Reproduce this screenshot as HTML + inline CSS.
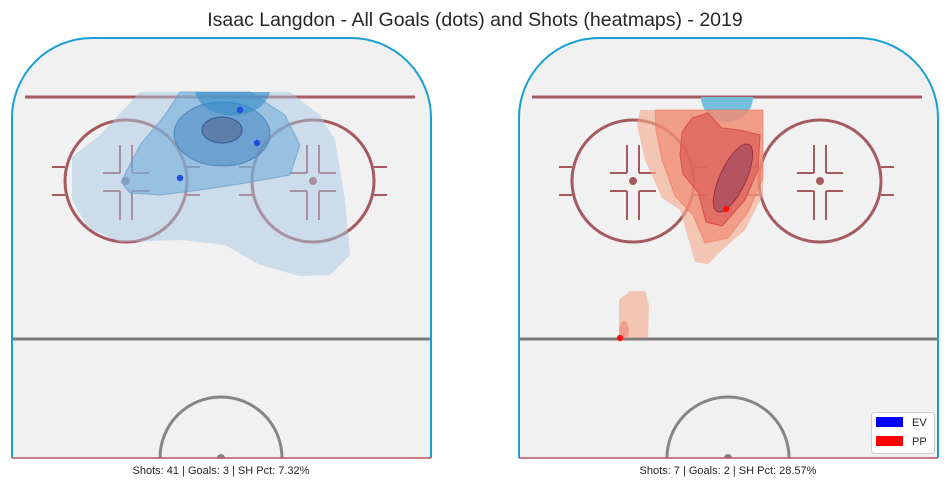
<!DOCTYPE html>
<html><head><meta charset="utf-8"><style>
html,body{margin:0;padding:0;width:950px;height:489px;overflow:hidden;background:#fff;font-family:"Liberation Sans",sans-serif}
svg{display:block}
</style></head><body>
<svg id="c" width="950" height="489" viewBox="0 0 950 489">
<text x="475" y="26" text-anchor="middle" font-size="19.5" fill="#262626">Isaac Langdon - All Goals (dots) and Shots (heatmaps) - 2019</text>
<g id="left"></g>
<g id="right"></g>
<text x="221" y="474" text-anchor="middle" font-size="11" fill="#262626">Shots: 41 | Goals: 3 | SH Pct: 7.32%</text>
<text x="728" y="474" text-anchor="middle" font-size="11" fill="#262626">Shots: 7 | Goals: 2 | SH Pct: 28.57%</text>
<g>
<rect x="871.5" y="412.5" width="63" height="41" rx="3" fill="#fff" stroke="#ccc"/>
<rect x="876" y="417" width="27" height="10" fill="#0000ff"/>
<text x="912" y="426" font-size="11" fill="#262626">EV</text>
<rect x="876" y="436" width="27" height="10" fill="#ff0000"/>
<text x="912" y="445" font-size="11" fill="#262626">PP</text>
</g>
</svg>
<script>
const leftGoalsX=[240,257,180];
const leftGoalsY=[110,143,178];
const rightGoalsX=[726,620];
const rightGoalsY=[209,338];
const NS='http://www.w3.org/2000/svg';
function mk(t,a,p){const e=document.createElementNS(NS,t);for(const k in a)e.setAttribute(k,a[k]);p.appendChild(e);return e;}
function rink(g,ox,id){
  const L=ox+12,R=ox+431,T=38,B=458,r=80;
  mk('clipPath',{id:'clip'+id},g);
  const cp=g.lastChild;
  mk('path',{d:`M${L},${B}V${T+r}A${r},${r} 0 0 1 ${L+r},${T}H${R-r}A${r},${r} 0 0 1 ${R},${T+r}V${B}Z`},cp);
  const bg=mk('path',{d:`M${L},${B}V${T+r}A${r},${r} 0 0 1 ${L+r},${T}H${R-r}A${r},${r} 0 0 1 ${R},${T+r}V${B}Z`,fill:'#f1f1f1'},g);
  
  
  const m=mk('g',{'clip-path':`url(#clip${id})`},g);
  mk('line',{x1:ox+25,x2:ox+415,y1:97,y2:97,stroke:'#a55a5f','stroke-width':3},m);
  mk('line',{x1:L,x2:R,y1:339,y2:339,stroke:'#7b7b7b','stroke-width':3},m);
  const cc=ox+221;
  mk('path',{d:`M${cc-61},${B}A61,61 0 0 1 ${cc+61},${B}`,fill:'none',stroke:'#858585','stroke-width':3},m);
  mk('path',{d:`M${cc-4},${B}A4,4 0 0 1 ${cc+4},${B}Z`,fill:'#858585'},m);
  [126,313].forEach(cx=>{
    cx+=ox;
    mk('circle',{cx:cx,cy:181,r:61,fill:'none',stroke:'#a55a5f','stroke-width':3},m);
    mk('circle',{cx:cx,cy:181,r:4,fill:'#a55a5f'},m);
    [[-74,-61],[61,74]].forEach(([a,b])=>[167,195].forEach(y=>mk('line',{x1:cx+a,x2:cx+b,y1:y,y2:y,stroke:'#a55a5f','stroke-width':2},m)));
    [-6,6].forEach(dx=>{mk('line',{x1:cx+dx,x2:cx+dx,y1:145,y2:173,stroke:'#a55a5f','stroke-width':2},m);mk('line',{x1:cx+dx,x2:cx+dx,y1:191,y2:220,stroke:'#a55a5f','stroke-width':2},m);});
    [173,191].forEach(y=>{mk('line',{x1:cx-23,x2:cx-6,y1:y,y2:y,stroke:'#a55a5f','stroke-width':2},m);mk('line',{x1:cx+6,x2:cx+23,y1:y,y2:y,stroke:'#a55a5f','stroke-width':2},m);});
  });
  mk('path',{d:`M${L},${B}V${T+r}A${r},${r} 0 0 1 ${L+r},${T}H${R-r}A${r},${r} 0 0 1 ${R},${T+r}V${B}`,fill:'none',stroke:'#1a9fd4','stroke-width':2},g);
  mk('line',{x1:L,x2:R,y1:B,y2:B,stroke:'#b5535a','stroke-width':1.5},g);
  return m;
}
function poly(g,pts,fill,stroke){const d='M'+pts.map(p=>p.join(',')).join('L')+'Z';return mk('path',{d:d,fill:fill,stroke:stroke||'none','stroke-width':1,'stroke-linejoin':'round'},g);}
const lm=rink(document.getElementById('left'),0,'L');
const rm=rink(document.getElementById('right'),507,'R');
const h1=poly(lm,[[72,157],[100,135],[140,92],[290,92],[320,115],[335,140],[345,200],[350,255],[330,275],[300,276],[260,265],[225,245],[180,240],[120,242],[88,228],[72,200]],'rgba(170,200,228,0.5)');

const h2=poly(lm,[[121,182],[140,145],[165,115],[180,92],[250,92],[285,115],[300,145],[290,175],[240,184],[200,190],[160,195],[130,193]],'rgba(110,170,215,0.55)','rgba(90,150,200,0.6)');

const h3=mk('ellipse',{cx:222,cy:134,rx:48,ry:32,fill:'rgba(80,140,195,0.6)',stroke:'rgba(60,120,180,0.7)'},lm);

mk('path',{d:'M195,92 A38,28 0 0 0 270,92 Z',fill:'rgba(50,140,200,0.6)'},lm);
const h5=mk('ellipse',{cx:222,cy:130,rx:20,ry:13,fill:'rgba(90,120,165,0.85)',stroke:'#2d5a96'},lm);

const b=mk('path',{d:'M701,97 A26,25 0 0 0 753,97 Z',fill:'#74bfde'},rm);

const r1=poly(rm,[[640,110],[763,110],[763,195],[745,230],[722,250],[708,264],[695,262],[688,238],[680,210],[662,198],[645,160],[637,125]],'rgba(245,170,140,0.6)');

const r2=poly(rm,[[655,110],[763,110],[763,178],[748,212],[728,238],[705,243],[693,215],[675,196],[662,160],[656,130]],'rgba(240,130,105,0.6)','rgba(240,110,90,0.6)');

const r3=poly(rm,[[682,132],[692,118],[708,113],[722,128],[740,130],[760,135],[758,170],[745,200],[722,226],[706,222],[698,192],[683,174],[680,155]],'rgba(215,80,80,0.6)','rgba(210,60,60,0.7)');

const r4=mk('ellipse',{cx:733,cy:178,rx:13,ry:37,transform:'rotate(25 733 178)',fill:'rgba(170,80,95,0.85)',stroke:'#a03040'},rm);

const r5=poly(rm,[[619,338],[619,300],[630,291],[645,291],[649,305],[648,338]],'rgba(245,170,140,0.6)');

mk('ellipse',{cx:624,cy:330,rx:5,ry:9,fill:'rgba(240,120,100,0.5)'},rm);
leftGoalsX.forEach((x,i)=>{const c=mk('circle',{cx:x,cy:leftGoalsY[i],r:3.2,fill:'#1f4fe0'},lm);

});
rightGoalsX.forEach((x,i)=>{const c=mk('circle',{cx:x,cy:rightGoalsY[i],r:3.2,fill:'#ff1010'},document.getElementById('right'));

});
</script>
</body></html>
